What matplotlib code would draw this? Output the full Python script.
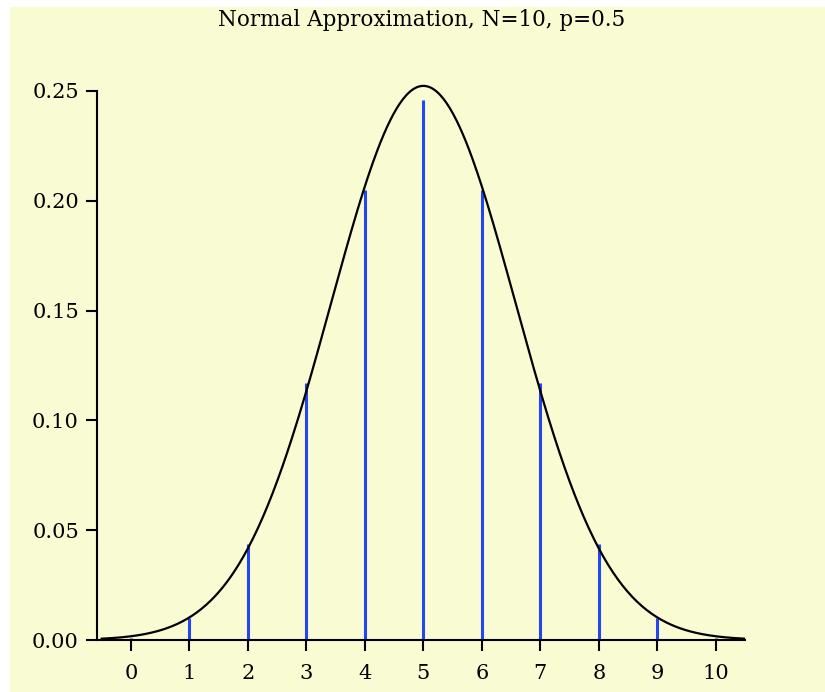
import numpy as np
import matplotlib.pyplot as plt
from matplotlib.patches import Rectangle

# binomial probabilities, N=10, p=0.5
n_trials = 10
p_success = 0.5
k = [0, 1, 2, 3, 4, 5, 6, 7, 8, 9, 10]
prob = [0.001, 0.0098, 0.0439, 0.1172, 0.2051, 0.2461,
        0.2051, 0.1172, 0.0439, 0.0098, 0.001]
yticks = [0.00, 0.05, 0.10, 0.15, 0.20, 0.25]

bg = '#F9FBD3'
plt.rcParams['font.family'] = 'DejaVu Serif'

fig = plt.figure(figsize=(8.25, 6.92), dpi=100)
fig.patch.set_facecolor('white')
fig.patches.append(Rectangle((10 / 825, 0), 1, 1 - 7 / 692,
                             transform=fig.transFigure, color=bg, zorder=-10))

ax = fig.add_axes([97 / 825, 52 / 692, 648 / 825, 571 / 692])
ax.set_facecolor('none')

# normal curve with the same mean and variance
mu = n_trials * p_success
sd = np.sqrt(n_trials * p_success * (1 - p_success))
xs = np.linspace(-0.5, 10.5, 400)
ax.plot(xs, np.exp(-0.5 * ((xs - mu) / sd) ** 2) / (sd * np.sqrt(2 * np.pi)),
        color='black', lw=1.6, zorder=3)

ax.vlines(k, 0, prob, color='#2245F5', lw=2.2, zorder=2)

ax.set_xlim(-0.58, 10.5)
ax.set_ylim(0, 0.26)
ax.set_xticks(k)
ax.set_yticks(yticks)
ax.set_yticklabels([f'{v:.2f}' for v in yticks])
ax.tick_params(axis='both', length=8, width=1.5, labelsize=15)
ax.tick_params(axis='y', pad=5)
ax.tick_params(axis='x', pad=9)

for side in ('top', 'right'):
    ax.spines[side].set_visible(False)
for side in ('left', 'bottom'):
    ax.spines[side].set_linewidth(1.5)
ax.spines['left'].set_bounds(0, 0.25)

fig.text(422 / 825, 1 - 20 / 692, 'Normal Approximation, N=10, p=0.5',
         ha='center', va='center', fontsize=15.5)

fig.savefig('out.png', dpi=100)
